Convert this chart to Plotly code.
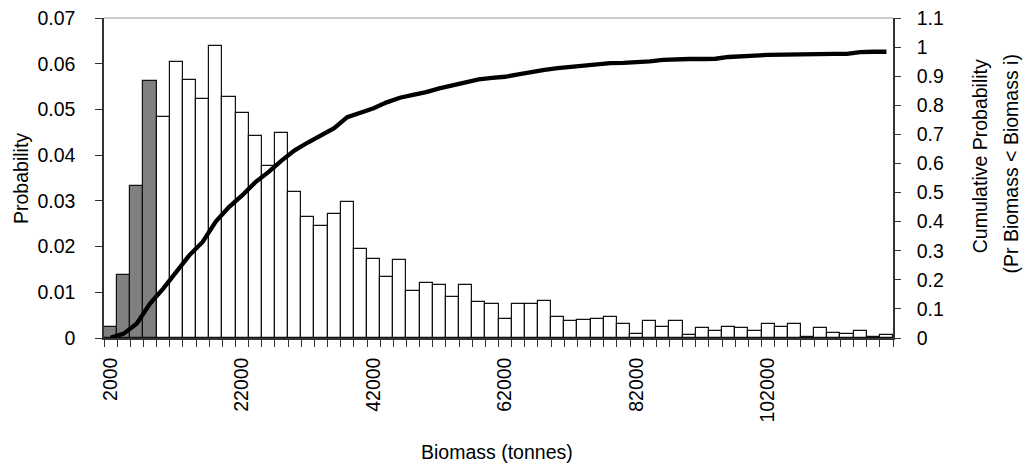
import plotly.graph_objects as go

# Category centres (Biomass, tonnes)
biomass = [2000, 4000, 6000, 8000, 10000, 12000, 14000, 16000, 18000, 20000,
           22000, 24000, 26000, 28000, 30000, 32000, 34000, 36000, 38000, 40000,
           42000, 44000, 46000, 48000, 50000, 52000, 54000, 56000, 58000, 60000,
           62000, 64000, 66000, 68000, 70000, 72000, 74000, 76000, 78000, 80000,
           82000, 84000, 86000, 88000, 90000, 92000, 94000, 96000, 98000, 100000,
           102000, 104000, 106000, 108000, 110000, 112000, 114000, 116000, 118000, 120000]

# Probability of each biomass class
probability = [0.0024, 0.0137, 0.0332, 0.0562, 0.0484, 0.0604, 0.0565, 0.0522, 0.0638, 0.0527,
               0.0493, 0.0442, 0.0376, 0.0449, 0.0320, 0.0265, 0.0246, 0.0272, 0.0298, 0.0195,
               0.0173, 0.0134, 0.0171, 0.0103, 0.0121, 0.0115, 0.0089, 0.0115, 0.0078, 0.0075,
               0.0042, 0.0075, 0.0075, 0.0081, 0.0046, 0.0037, 0.0039, 0.0042, 0.0046, 0.0031,
               0.0009, 0.0037, 0.0024, 0.0037, 0.0006, 0.0021, 0.0015, 0.0024, 0.0021, 0.0015,
               0.0031, 0.0024, 0.0031, 0.0003, 0.0021, 0.0012, 0.0009, 0.0015, 0.0003, 0.0006]

# Cumulative probability (Pr Biomass < Biomass i)
cumulative = [0.001, 0.015, 0.050, 0.118, 0.170, 0.230, 0.285, 0.330, 0.400, 0.450,
              0.490, 0.535, 0.570, 0.610, 0.645, 0.672, 0.698, 0.721, 0.759, 0.775,
              0.790, 0.810, 0.826, 0.836, 0.845, 0.858, 0.868, 0.877, 0.889, 0.894,
              0.898, 0.906, 0.915, 0.922, 0.928, 0.933, 0.937, 0.941, 0.945, 0.946,
              0.948, 0.951, 0.956, 0.959, 0.959, 0.959, 0.960, 0.966, 0.967, 0.971,
              0.973, 0.974, 0.977, 0.977, 0.977, 0.977, 0.977, 0.983, 0.984, 0.984]

# Number of leading classes drawn in grey
n_grey = 4

tick_vals = [2000, 22000, 42000, 62000, 82000, 102000]
tick_text = ["2000", "22000", "42000", "62000", "82000", "102000"]

FONT = "Liberation Sans, Arial, sans-serif"
AX = "#333333"

bar_colors = ["#808080" if i < n_grey else "#ffffff" for i in range(len(biomass))]

fig = go.Figure()
fig.add_trace(go.Bar(
    x=biomass, y=probability, width=2000,
    marker=dict(color=bar_colors, line=dict(color="#111111", width=1.2)),
    yaxis="y", showlegend=False, hoverinfo="x+y",
))
fig.add_trace(go.Scatter(
    x=biomass, y=cumulative, mode="lines",
    line=dict(color="#000000", width=4.3),
    yaxis="y2", showlegend=False,
))

fig.update_layout(
    width=1024, height=466,
    margin=dict(l=104, r=131, t=18, b=128),
    paper_bgcolor="white", plot_bgcolor="white",
    font=dict(family=FONT, size=19.5, color="#000000"),
    bargap=0,
    showlegend=False,
    xaxis=dict(
        range=[1000, 121000], tickvals=tick_vals, ticktext=tick_text,
        tickangle=-90, ticks="", showgrid=False, zeroline=False,
        showline=True, linecolor=AX, linewidth=1.5, automargin=False,
        ticklabelstandoff=10,
        minor=dict(ticks="outside", tick0=1000, dtick=2000, ticklen=7,
                   tickcolor=AX, tickwidth=1, showgrid=False),
    ),
    yaxis=dict(
        range=[0, 0.07], dtick=0.01, ticks="outside", ticklen=7,
        tickcolor=AX, showgrid=False, zeroline=False, automargin=False,
        showline=True, linecolor=AX, linewidth=1.5,
        ticklabelstandoff=16, ticklabeloverflow="allow",
    ),
    yaxis2=dict(
        range=[0, 1.1], dtick=0.1, overlaying="y", side="right",
        ticks="outside", ticklen=6, tickcolor=AX, showgrid=False, automargin=False,
        zeroline=False, showline=True, linecolor=AX, linewidth=1.5,
        ticklabelstandoff=12, ticklabeloverflow="allow",
    ),
    shapes=[dict(type="line", xref="paper", yref="paper", x0=0, x1=1, y0=1, y1=1,
                 line=dict(color="#999999", width=1.2))],
    annotations=[
        dict(text="Probability", xref="paper", yref="paper", x=-0.1052, y=0.5,
             textangle=-90, showarrow=False, xanchor="center", yanchor="middle",
             font=dict(size=19.5)),
        dict(text="Biomass (tonnes)", xref="paper", yref="paper", x=0.498, y=-0.356,
             showarrow=False, xanchor="center", yanchor="middle", font=dict(size=19.5)),
        dict(text="Cumulative Probability", xref="paper", yref="paper", x=1.1105, y=0.878,
             textangle=-90, showarrow=False, xanchor="center", yanchor="top",
             font=dict(size=19.5)),
        dict(text="(Pr Biomass < Biomass i)", xref="paper", yref="paper", x=1.1483, y=0.8906,
             textangle=-90, showarrow=False, xanchor="center", yanchor="top",
             font=dict(size=19.5)),
    ],
)

fig.write_html("out.html", config={"displayModeBar": False},
               post_script="document.body.style.margin='0';")
